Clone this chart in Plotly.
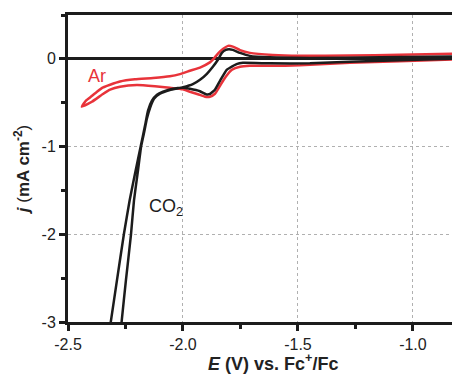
import plotly.graph_objects as go

# Ar CV (closed loop): cathodic sweep then anodic return
ar_E = [-0.830, -1.057, -1.274, -1.491, -1.622, -1.709, -1.752, -1.787, -1.817, -1.839,
        -1.861, -1.883, -1.904, -1.935, -1.970, -2.000, -2.057, -2.122, -2.200, -2.274,
        -2.317, -2.348, -2.396, -2.440,
        -2.422, -2.404, -2.374, -2.347, -2.317, -2.274, -2.209, -2.130, -2.057, -2.013,
        -1.970, -1.926, -1.883, -1.868, -1.848, -1.825, -1.804, -1.783, -1.752, -1.709,
        -1.609, -1.491, -1.274, -1.057, -0.830]
ar_j = [-0.006, -0.028, -0.045, -0.074, -0.080, -0.080, -0.091, -0.125, -0.216, -0.307,
        -0.398, -0.432, -0.432, -0.403, -0.375, -0.347, -0.330, -0.313, -0.299, -0.318,
        -0.352, -0.401, -0.489, -0.545,
        -0.477, -0.440, -0.375, -0.326, -0.295, -0.258, -0.233, -0.219, -0.199, -0.174,
        -0.136, -0.099, -0.040, -0.003, 0.060, 0.115, 0.148, 0.140, 0.100, 0.068,
        0.045, 0.036, 0.038, 0.046, 0.057]

# CO2 CV (closed loop): cathodic sweep then anodic return
co2_E = [-0.830, -1.057, -1.274, -1.448, -1.622, -1.739, -1.767, -1.796, -1.810, -1.839,
         -1.861, -1.883, -1.900, -1.926, -1.970, -2.000, -2.043, -2.087, -2.113, -2.135,
         -2.152, -2.165, -2.184, -2.208, -2.232, -2.257, -2.287, -2.314, -2.326,
         -2.274, -2.267, -2.248, -2.226, -2.213, -2.197, -2.182, -2.170, -2.157, -2.143, -2.126,
         -2.100, -2.057, -2.000, -1.957, -1.926, -1.896, -1.870, -1.848, -1.831, -1.814,
         -1.800, -1.783, -1.752, -1.709, -1.622, -1.448, -1.143, -0.830]
co2_j = [0.000, -0.017, -0.034, -0.051, -0.051, -0.045, -0.060, -0.102, -0.125, -0.250,
         -0.352, -0.401, -0.403, -0.369, -0.341, -0.330, -0.341, -0.375, -0.409, -0.477,
         -0.591, -0.761, -1.000, -1.300, -1.614, -2.000, -2.523, -3.000, -3.200,
         -3.200, -3.000, -2.523, -2.000, -1.614, -1.300, -1.000, -0.852, -0.682, -0.557, -0.455,
         -0.398, -0.356, -0.324, -0.288, -0.239, -0.170, -0.090, -0.010, 0.068, 0.102,
         0.110, 0.102, 0.068, 0.034, 0.017, 0.011, 0.017, 0.028]

x_ticks = [-2.5, -2.0, -1.5, -1.0]
x_ticktext = ["-2.5", "-2.0", "-1.5", "-1.0"]
y_ticks = [0, -1, -2, -3]
y_ticktext = ["0", "-1", "-2", "-3"]

RED = "#e8333a"
BLACK = "#1c1c1c"

fig = go.Figure()
fig.add_trace(go.Scatter(x=ar_E, y=ar_j, mode="lines",
                         line=dict(color=RED, width=2.5, shape="spline", smoothing=0.4),
                         showlegend=False))
fig.add_trace(go.Scatter(x=co2_E, y=co2_j, mode="lines",
                         line=dict(color=BLACK, width=2.5, shape="spline", smoothing=0.4),
                         showlegend=False))

font = "Liberation Sans, Arial, sans-serif"
fig.add_annotation(x=-2.374, y=-0.19, text="Ar", showarrow=False,
                   font=dict(family=font, size=18, color=RED))
fig.add_annotation(x=-2.072, y=-1.70, text="CO<sub>2</sub>", showarrow=False,
                   font=dict(family=font, size=18, color=BLACK))
# x-axis title placed just below the tick labels
fig.add_annotation(x=0.535, y=-0.133, xref="paper", yref="paper",
                   xanchor="center", yanchor="middle", showarrow=False,
                   text="<b><i>E</i> (V) vs. Fc<sup>+</sup>/Fc</b>",
                   font=dict(family=font, size=18, color="#222222"))

fig.update_layout(
    width=452, height=374,
    margin=dict(l=68, r=0, t=15, b=52),
    paper_bgcolor="white", plot_bgcolor="white",
    font=dict(family=font, size=16, color="#222222"),
    xaxis=dict(
        range=[-2.5, -0.83], tickvals=x_ticks, ticktext=x_ticktext, automargin=False,
        showline=True, linecolor=BLACK, linewidth=3, mirror=True,
        ticks="outside", ticklen=6, tickwidth=2.5, tickcolor=BLACK,
        minor=dict(dtick=0.25, tick0=-2.5, ticks="outside", ticklen=4, tickwidth=2.5,
                   tickcolor=BLACK, showgrid=False),
        showgrid=True, gridcolor="#b0b0b0", gridwidth=1, griddash="dot",
        zeroline=False,
    ),
    yaxis=dict(
        range=[-3, 0.5], tickvals=y_ticks, ticktext=y_ticktext, automargin=False,
        showline=True, linecolor=BLACK, linewidth=3,
        ticks="outside", ticklen=6, tickwidth=2.5, tickcolor=BLACK,
        minor=dict(dtick=0.5, tick0=0, ticks="outside", ticklen=4, tickwidth=2.5,
                   tickcolor=BLACK, showgrid=False),
        showgrid=True, gridcolor="#b0b0b0", gridwidth=1, griddash="dot",
        zeroline=True, zerolinecolor=BLACK, zerolinewidth=2.5,
        title=dict(text="<b><i>j</i></b> (<b>mA cm<sup>-2</sup></b>)", standoff=8,
                   font=dict(size=17)),
    ),
)

fig.write_html("out.html", config={"displayModeBar": False},
               post_script="document.body.style.margin='0';")
